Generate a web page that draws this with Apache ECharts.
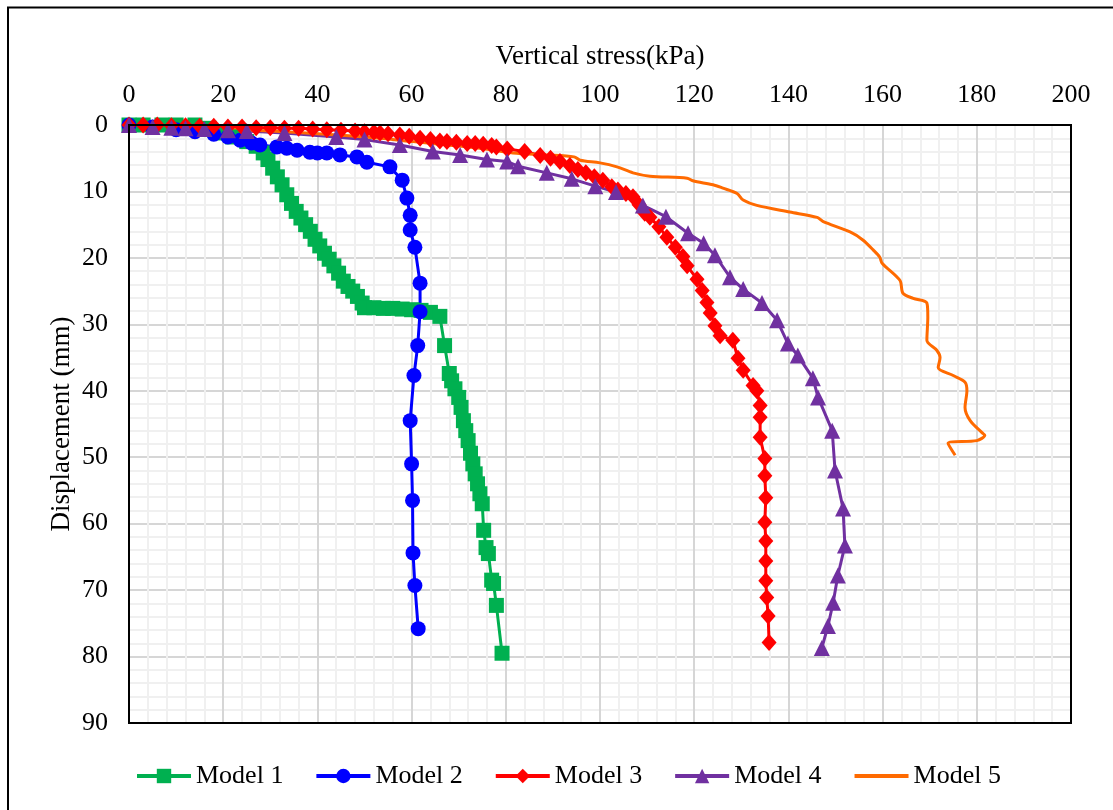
<!DOCTYPE html>
<html>
<head>
<meta charset="utf-8">
<script src="https://cdn.jsdelivr.net/npm/echarts@6/dist/echarts.min.js"></script>
<style>
  html, body { margin: 0; padding: 0; background: #fff; }
  #chart { width: 1113px; height: 810px; }
</style>
</head>
<body>
<div id="chart"></div>
<script>
const seriesNames = ['Model 1', 'Model 2', 'Model 3', 'Model 4', 'Model 5'];
const xAxisTitle = 'Vertical stress(kPa)';
const yAxisTitle = 'Displacement (mm)';

// [vertical stress (kPa), displacement (mm)]
const model1 = [[0,0],[3,0],[7,0],[10,0],[14,0],[17,0.5],[19,1.2],[22,1.8],[25,2.5],[27,3.2],[28.5,4.2],[29.5,5.2],[30.5,6.5],[31.5,7.8],[32.5,9],[33.5,10.5],[34.5,11.8],[35.5,13],[36.5,14],[37.5,15],[38.5,16],[39.5,17.2],[40.5,18.2],[41.5,19.3],[42.5,20.2],[43.5,21.2],[44.5,22.3],[45.5,23.5],[46.5,24.3],[47.5,25],[48.5,25.8],[49.5,26.8],[50,27.5],[52,27.5],[54,27.6],[56,27.6],[58,27.7],[60,27.8],[62,27.9],[64,28.2],[66,28.8],[67,33.2],[68,37.4],[68.5,38.5],[69.2,39.7],[70,41],[70.5,42.5],[71,44.5],[71.5,46],[72,47.5],[72.5,49.4],[73,51],[73.5,52.5],[74,54],[74.5,55.5],[75,57],[75.3,61],[75.8,63.6],[76.3,64.5],[77,68.5],[77.4,69],[78,72.3],[79.2,79.5]];
const model2 = [[0,0],[5,0.3],[10,0.7],[14,1.0],[18,1.4],[21,1.8],[23.6,2.3],[26,2.7],[27.8,3.0],[31.4,3.3],[33.5,3.5],[35.7,3.8],[38.4,4.1],[40,4.2],[42,4.2],[44.8,4.5],[48.4,4.8],[50.5,5.6],[55.4,6.3],[58,8.3],[59,11],[59.7,13.6],[59.7,15.8],[60.7,18.4],[61.8,23.8],[61.8,28.1],[61.3,33.2],[60.5,37.7],[59.7,44.5],[60,51],[60.2,56.5],[60.3,64.4],[60.7,69.3],[61.4,75.8]];
const model3 = [[0,0],[3,0],[6,0],[9,0.1],[12,0.1],[15,0.2],[18,0.2],[21,0.3],[24,0.3],[27,0.4],[30,0.4],[33,0.5],[36,0.5],[39,0.6],[42,0.7],[45,0.8],[48,0.9],[50,1.0],[52,1.1],[53.3,1.2],[55,1.3],[57.5,1.5],[59.5,1.7],[61.8,2.0],[64,2.2],[66,2.4],[67.5,2.5],[69.5,2.6],[71.8,2.8],[73.5,2.8],[75.2,2.9],[77,3.1],[78,3.3],[80.3,3.6],[84,4.0],[87.3,4.6],[89.5,5.0],[91.5,5.5],[93.6,6.1],[95.3,6.7],[97,7.2],[98.8,7.8],[100.6,8.3],[102.5,9.3],[103.8,9.8],[105.5,10.3],[107,10.8],[108.3,12],[109.5,13.3],[110.6,13.9],[112.5,15.3],[114.2,16.9],[116,18.4],[117.6,19.8],[118.5,21.2],[120.6,23.2],[121.7,24.9],[122.7,26.7],[123.4,28.3],[124.4,30.2],[125.5,31.7],[128.2,32.4],[129.3,35.1],[130.4,36.9],[132.5,39.2],[133.3,40],[134,42.2],[134,44],[134,47],[135,50.2],[135,52.8],[135.2,56.1],[135,59.8],[135.2,62.6],[135.2,65.6],[135.2,68.6],[135.4,71.1],[135.7,73.9],[135.9,77.9]];
const model4 = [[0,0],[5,0.3],[9,0.4],[12,0.5],[16,0.6],[21,0.8],[25,0.9],[33,1.2],[44,1.8],[50,2.2],[57.5,3.0],[64.5,4.0],[70.3,4.5],[76,5.2],[80.3,5.5],[82.6,6.2],[88.7,7.2],[94,8.1],[99,9.2],[103.4,10.1],[109.1,12.1],[114,13.8],[118.7,16.3],[122,17.8],[124.4,19.6],[127.6,22.9],[130.4,24.7],[134.4,26.8],[137.6,29.4],[139.9,32.9],[142,34.7],[145.2,38.1],[146.3,41],[149.3,46],[149.9,52],[151.6,57.7],[152,63.3],[150.5,67.8],[149.5,71.9],[148.4,75.4],[147.1,78.7]];
const model5 = [[1.3,0],[10,0.3],[20,0.6],[30,0.9],[40,1.3],[53.3,2.0],[60.3,2.5],[67.5,3.0],[74.5,3.5],[81.5,4.2],[88.7,4.5],[94.5,4.8],[95.8,5.3],[100,5.7],[103.6,6.3],[107,7.2],[110.6,7.7],[118.5,8.0],[119.7,8.4],[124,9.0],[126.1,9.5],[129.1,10.3],[130.4,11.3],[133.3,12.1],[140.3,13.1],[146.1,13.9],[147.3,14.5],[153.1,16.1],[155.8,17.3],[158,18.8],[159.4,19.9],[159.9,20.8],[163.7,23.4],[164.3,25.3],[166.5,26.1],[169.4,26.8],[169.6,28.9],[169.4,32.4],[171.5,33.9],[172.2,35],[171.8,36.5],[175,37.7],[177.5,38.7],[177.9,40],[177.5,42.5],[178.6,44.5],[181.1,46.3],[181.7,46.7],[180,47.5],[173.9,47.9],[175.4,49.7]];

const xTicks = { min: 0, max: 200, interval: 20 };
const yTicks = { min: 0, max: 90, interval: 10 };

const FONT = '"Liberation Serif", "Times New Roman", serif';
const colors = ['#00B050', '#0000FF', '#FF0000', '#7030A0', '#FF6A00'];
const symbols = ['rect', 'circle', 'diamond', 'triangle', 'none'];
const symbolSizes = [15, 15, [15, 17], 16, 0];
const datasets = [model1, model2, model3, model4, model5];

const GRID = { left: 129, top: 125, right: 42, bottom: 87 };
const W = 1113, H = 810;

const chart = echarts.init(document.getElementById('chart'), null, { renderer: 'canvas' });

const axisCommon = {
  type: 'value',
  axisTick: { show: false },
  axisLine: { show: true, lineStyle: { color: '#000', width: 2 } },
  splitLine: { show: true, lineStyle: { color: '#d6d6d6', width: 2 } },
  minorTick: { show: false, splitNumber: 5 },
  minorSplitLine: { show: true, lineStyle: { color: '#f0f0f0', width: 2 } },
  axisLabel: { color: '#000', fontFamily: FONT, fontSize: 26 },
  nameTextStyle: { color: '#000', fontFamily: FONT, fontSize: 27 }
};

chart.setOption({
  animation: false,
  backgroundColor: '#fff',
  graphic: [{
    type: 'rect', silent: true, z: 100,
    shape: { x: 8, y: 7.5, width: 1130, height: 830 },
    style: { fill: 'none', stroke: '#000', lineWidth: 2 }
  }, {
    type: 'rect', silent: true, z: 100,
    shape: { x: GRID.left, y: GRID.top, width: W - GRID.left - GRID.right, height: H - GRID.top - GRID.bottom },
    style: { fill: 'none', stroke: '#000', lineWidth: 2 }
  }],
  grid: Object.assign({ show: false }, GRID),
  legend: {
    data: seriesNames.map((n, i) => i === 4 ? { name: n, itemStyle: { opacity: 0 } } : { name: n }),
    left: 135, top: 763, padding: 0,
    itemWidth: 54, itemHeight: 18, itemGap: 31,
    lineStyle: { width: 4 },
    textStyle: { color: '#000', fontFamily: FONT, fontSize: 26 }
  },
  xAxis: Object.assign({}, axisCommon, {
    position: 'top',
    min: xTicks.min, max: xTicks.max, interval: xTicks.interval,
    name: xAxisTitle, nameLocation: 'middle', nameGap: 55,
    axisLabel: Object.assign({}, axisCommon.axisLabel, { margin: 17 })
  }),
  yAxis: Object.assign({}, axisCommon, {
    inverse: true,
    min: yTicks.min, max: yTicks.max, interval: yTicks.interval,
    name: yAxisTitle, nameLocation: 'middle', nameGap: 54, nameMoveOverlap: false,
    axisLabel: Object.assign({}, axisCommon.axisLabel, { margin: 21 })
  }),
  series: datasets.map((d, i) => ({
    name: seriesNames[i],
    type: 'line',
    data: d,
    symbol: symbols[i],
    symbolSize: symbolSizes[i],
    showSymbol: symbols[i] !== 'none',
    smooth: i === 4 ? 0.3 : false,
    lineStyle: { color: colors[i], width: 3 },
    itemStyle: { color: colors[i] },
    emphasis: { disabled: true }
  }))
});
</script>
</body>
</html>
